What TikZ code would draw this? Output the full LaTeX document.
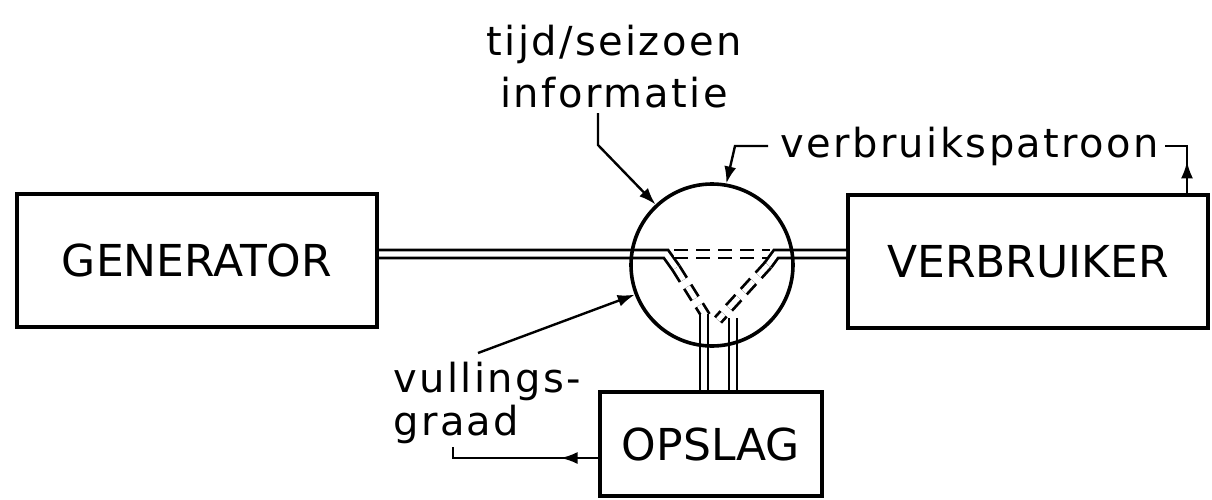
\documentclass[tikz,border=0pt]{standalone}
\usepackage{fontspec}
\setmainfont{DejaVu Sans}
\newfontfamily\labelfont[LetterSpace=6]{DejaVu Sans}
\usetikzlibrary{arrows.meta}
\usetikzlibrary{decorations.markings}

\begin{document}
\begin{tikzpicture}[x=0.5pt, y=-0.5pt, >={Latex[length=8.5pt,width=6pt]},
  blok/.style={draw, line width=2pt, inner sep=0pt, minimum width=180pt, minimum height=66.5pt, font=\fontsize{22}{26}\selectfont},
  pijp/.style={double, line width=1.4pt, double distance=2.6pt},
  stippel/.style={dash pattern=on 7pt off 4pt},
  info/.style={line width=1.2pt},
  tekst/.style={inner sep=0pt, font=\labelfont\fontsize{20}{26}\selectfont},
  halfpijl/.style={postaction={decorate, decoration={markings, mark=at position #1 with {\arrow{>}}}}}]
\useasboundingbox (0,0) rectangle (1212,499);
\def\py{254}

\node[blok] (generator) at (197,260.5) {GENERATOR};
\node[blok] (verbruiker) at (1028,261.5) {VERBRUIKER};
\node[blok, minimum width=111pt, minimum height=52pt] (opslag) at (711,444) {OPSLAG};
\node[circle, inner sep=0pt, minimum size=81pt, outer sep=0.9pt] (regelaar) at (712,265) {};

\node[tekst, align=center] (tijd) at (614,67) {tijd/seizoen\\informatie};
\node[tekst, anchor=base west] (patroon) at (780,157) {verbruikspatroon};
\node[tekst, align=left, anchor=west, font=\labelfont\fontsize{20}{21.5}\selectfont] (vulling) at (393,403) {vullings-\\graad};

% leidingen
\draw[pijp] (generator.east |- 0,\py) -- (666,\py) -- (676,268);
\draw[pijp, stippel] (676,268) -- (706,316);
\draw[pijp, stippel] (674,\py) -- (770,\py);
\draw[pijp] (verbruiker.west |- 0,\py) -- (776,\py) -- (768,265);
\draw[pijp, stippel] (768,265) -- (718,320);
\draw[pijp] (704,314) -- (opslag.north -| 704,0);
\draw[pijp] (733,318) -- (opslag.north -| 733,0);
\draw[line width=1.8pt] (regelaar.center) circle (81);

% informatie
\coordinate (tijdvoet) at (598,113);
\coordinate (vulkop) at (478,353);
\coordinate (graadvoet) at (453,447);
\draw[info, ->] (tijdvoet) -- ++(0,32) -- (regelaar.133);
\draw[info, ->] ([xshift=-6pt]patroon.west) -- ++(-33,0) -- (regelaar.80);
\draw[info, halfpijl=0.46] (verbruiker.north -| 1187,0) |- ([xshift=3pt]patroon.east);
\draw[info, ->] (vulkop) -- (regelaar.201);
\draw[info, halfpijl=0.24] (opslag.west |- 0,458) -| (graadvoet);
\end{tikzpicture}
\end{document}
